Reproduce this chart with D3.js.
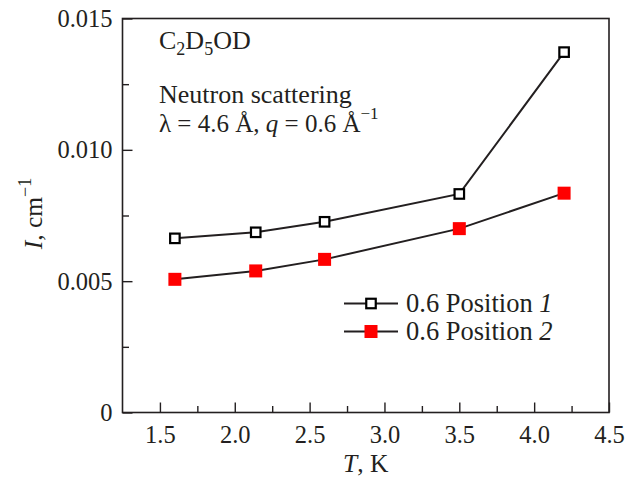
<!DOCTYPE html>
<html><head><meta charset="utf-8">
<script src="https://cdn.jsdelivr.net/npm/d3@7/dist/d3.min.js"></script>
<style>body{margin:0;background:#fff}svg{display:block}svg text{font-family:"Liberation Serif","Times New Roman",Times,serif !important;fill:#231f20}</style>
</head><body>
<svg id="c" width="638" height="478"></svg>
<script>
const temperatures = [1.6, 2.14, 2.6, 3.5, 4.2];
const position1 = [0.00663, 0.00686, 0.00726, 0.00832, 0.01372];
const position2 = [0.00507, 0.00539, 0.00583, 0.00700, 0.00835];
const xTicks = [1.5, 2.0, 2.5, 3.0, 3.5, 4.0, 4.5];
const xMinor = [1.75, 2.25, 2.75, 3.25, 3.75, 4.25];
const yTicks = [0, 0.005, 0.010, 0.015];
const yTickLabels = ["0", "0.005", "0.010", "0.015"];
const yMinor = [0.0025, 0.0075, 0.0125];

const svg = d3.select("#c");
const L = 122.5, R = 609, T = 18.5, B = 412.5;
const x = d3.scaleLinear().domain([1.25, 4.5]).range([L, R]);
const y = d3.scaleLinear().domain([0, 0.015]).range([B, T]);
const ink = "#231f20";
const fsTick = 24.5, fsText = 26, fsLegend = 26.5, fsTitle = 25.5;
const serif = '"Liberation Serif", "Times New Roman", Times, serif';

// frame
svg.append("rect").attr("x", L).attr("y", T).attr("width", R - L).attr("height", B - T)
  .attr("fill", "none").attr("stroke", ink).attr("stroke-width", 1.6);

// x axis
const xAxis = d3.axisBottom(x).tickValues(xTicks).tickFormat(d3.format(".1f")).tickSizeInner(-10).tickSizeOuter(0).tickPadding(13);
const gx = svg.append("g").attr("transform", `translate(0,${B})`).call(xAxis).attr("font-family", serif);
gx.select(".domain").remove();
gx.selectAll("line").attr("stroke", ink).attr("stroke-width", 1.4);
gx.selectAll("text").attr("font-size", fsTick).attr("fill", ink);
const gxm = svg.append("g").attr("transform", `translate(0,${B})`).call(d3.axisBottom(x).tickValues(xMinor).tickSizeInner(-6.5).tickSizeOuter(0).tickFormat(""));
gxm.select(".domain").remove();
gxm.selectAll("line").attr("stroke", ink).attr("stroke-width", 1.4);

// y axis
const yAxis = d3.axisLeft(y).tickValues(yTicks).tickFormat((d, i) => yTickLabels[i]).tickSizeInner(-10).tickSizeOuter(0).tickPadding(10);
const gy = svg.append("g").attr("transform", `translate(${L},0)`).call(yAxis).attr("font-family", serif);
gy.select(".domain").remove();
gy.selectAll("line").attr("stroke", ink).attr("stroke-width", 1.4);
gy.selectAll("text").attr("font-size", fsTick).attr("fill", ink);
const gym = svg.append("g").attr("transform", `translate(${L},0)`).call(d3.axisLeft(y).tickValues(yMinor).tickSizeInner(-6.5).tickSizeOuter(0).tickFormat(""));
gym.select(".domain").remove();
gym.selectAll("line").attr("stroke", ink).attr("stroke-width", 1.4);

// axis titles
const xt = svg.append("text").attr("x", (L + R) / 2).attr("y", 472).attr("text-anchor", "middle").attr("font-size", fsTitle);
xt.append("tspan").attr("font-style", "italic").text("T");
xt.append("tspan").text(", K");

const yt = svg.append("text").attr("transform", `translate(42,${(T + B) / 2 - 2}) rotate(-90)`).attr("text-anchor", "middle").attr("font-size", fsTitle);
yt.append("tspan").attr("font-style", "italic").text("I");
yt.append("tspan").text(", cm");
yt.append("tspan").attr("font-size", 18).attr("dy", -11).text("\u22121");

// lines
const line = d3.line().x((d, i) => x(temperatures[i])).y(d => y(d));
svg.append("path").datum(position1).attr("d", line).attr("fill", "none").attr("stroke", ink).attr("stroke-width", 2);
svg.append("path").datum(position2).attr("d", line).attr("fill", "none").attr("stroke", ink).attr("stroke-width", 2);

// markers
svg.selectAll(".m1").data(position1).join("rect")
  .attr("x", (d, i) => x(temperatures[i]) - 4.75).attr("y", d => y(d) - 4.75)
  .attr("width", 9.5).attr("height", 9.5).attr("fill", "#fff").attr("stroke", "#000").attr("stroke-width", 2.2);
svg.selectAll(".m2").data(position2).join("rect")
  .attr("x", (d, i) => x(temperatures[i]) - 6.5).attr("y", d => y(d) - 6.5)
  .attr("width", 13).attr("height", 13).attr("fill", "#ff0000");

// annotation
const a1 = svg.append("text").attr("x", 159).attr("y", 49).attr("font-size", fsText);
a1.append("tspan").text("C");
a1.append("tspan").attr("font-size", 18).attr("dy", 6).text("2");
a1.append("tspan").attr("dy", -6).text("D");
a1.append("tspan").attr("font-size", 18).attr("dy", 6).text("5");
a1.append("tspan").attr("dy", -6).text("OD");

svg.append("text").attr("x", 159).attr("y", 103).attr("font-size", fsText).text("Neutron scattering");
const a3 = svg.append("text").attr("x", 159).attr("y", 132).attr("font-size", 25);
a3.append("tspan").text("\u03bb = 4.6 \u00c5, ");
a3.append("tspan").attr("font-style", "italic").text("q");
a3.append("tspan").text(" = 0.6 \u00c5");
a3.append("tspan").attr("font-size", 17).attr("dy", -13).text("\u22121");

// legend
const legend = [
  {label: "0.6 Position ", num: "1", fill: "#fff", stroke: "#000", size: 9.5, sw: 2.2},
  {label: "0.6 Position ", num: "2", fill: "#ff0000", stroke: "none", size: 13, sw: 0}
];
const ly = [303.5, 331.5];
legend.forEach((d, i) => {
  const g = svg.append("g");
  g.append("line").attr("x1", 344).attr("x2", 398).attr("y1", ly[i]).attr("y2", ly[i]).attr("stroke", ink).attr("stroke-width", 2);
  g.append("rect").attr("x", 371 - d.size / 2).attr("y", ly[i] - d.size / 2).attr("width", d.size).attr("height", d.size)
    .attr("fill", d.fill).attr("stroke", d.stroke).attr("stroke-width", d.sw);
  const t = g.append("text").attr("x", 406).attr("y", ly[i] + 8.5).attr("font-size", fsLegend);
  t.append("tspan").text(d.label);
  t.append("tspan").attr("font-style", "italic").text(d.num);
});
</script>
</body></html>
